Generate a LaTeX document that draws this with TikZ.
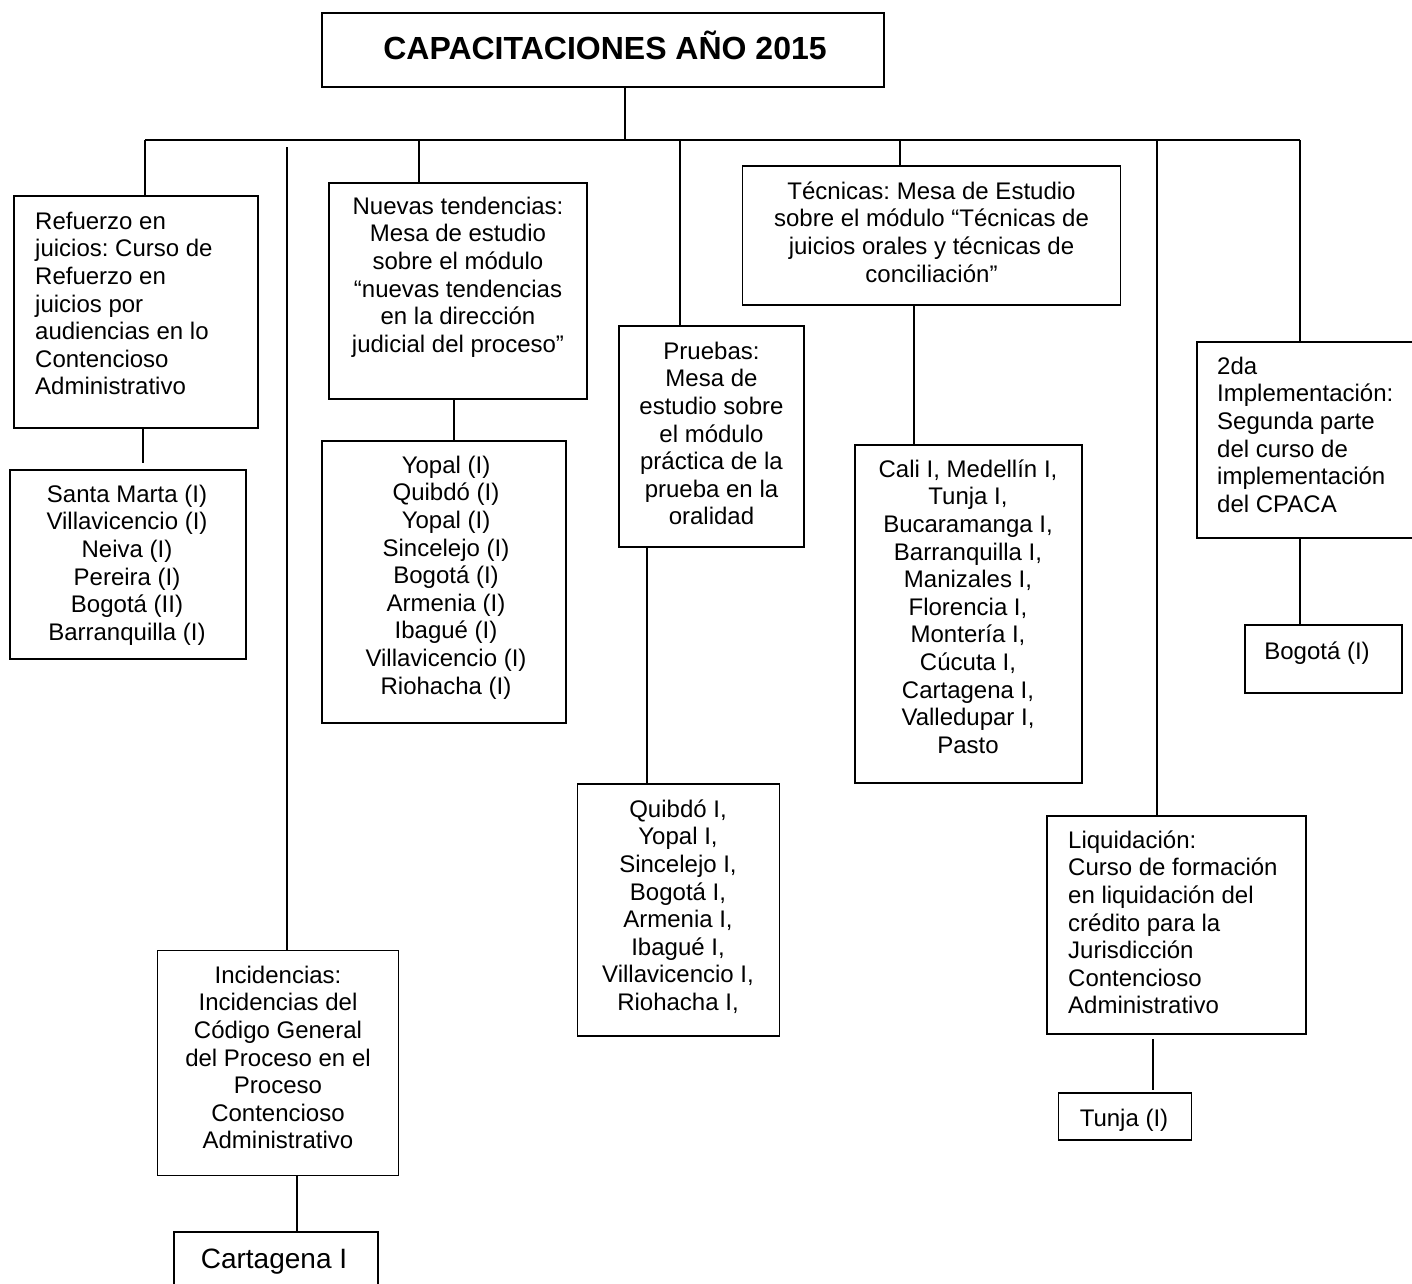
\documentclass[tikz,border=0pt]{standalone}
\usepackage{fontspec}
\setmainfont{Liberation Sans}
\frenchspacing
\begin{document}
\begin{tikzpicture}[x=1pt,y=-1pt,
  box/.style={draw=black,line width=1.8pt,inner sep=0pt,outer sep=0pt},
  txt/.style={font=\fontsize{24}{27.6}\selectfont\frenchspacing,inner sep=0pt,align=center,anchor=north},
  ltxt/.style={txt,align=left,anchor=north west},
  btxt/.style={font=\fontsize{24}{27.6}\selectfont,inner sep=0pt,anchor=base},
  conn/.style={line width=1.4pt,line cap=butt}]
\useasboundingbox (0,0) rectangle (1412,1283);
\clip (0,0) rectangle (1412,1283);
\fill[white] (0,0) rectangle (1412,1283);

% ---- boxes ----
\node[box,minimum width=562pt,minimum height=74pt] (title) at (603,50) {};
\node[box,minimum width=244pt,minimum height=232pt] (ref) at (136,312) {};
\node[box,minimum width=258pt,minimum height=216pt] (nue) at (458,291) {};
\node[box,minimum width=185pt,minimum height=221pt] (pru) at (711.5,436.5) {};
\node[box,minimum width=378pt,minimum height=139pt] (tec) at (931.5,235.5) {};
\node[box,minimum width=221pt,minimum height=196pt] (dos) at (1307.5,440) {};
\node[box,minimum width=259pt,minimum height=218pt] (liq) at (1176.5,925) {};
\node[box,minimum width=241pt,minimum height=225pt] (inc) at (278,1063) {};
\node[box,minimum width=236pt,minimum height=189pt] (sm) at (128,564.5) {};
\node[box,minimum width=244pt,minimum height=282pt] (yo) at (444,582) {};
\node[box,minimum width=202pt,minimum height=252pt] (qu) at (678.5,910) {};
\node[box,minimum width=227pt,minimum height=338pt] (ca) at (968.5,614) {};
\node[box,minimum width=157pt,minimum height=68pt] (bo) at (1323.5,659) {};
\node[box,minimum width=133pt,minimum height=47pt] (tu) at (1125,1116.5) {};
\node[box,minimum width=204pt,minimum height=70pt] (cg) at (276,1267) {};

% ---- texts ----
\node[font=\fontsize{32}{36}\selectfont\bfseries,inner sep=0pt,anchor=base] (ttitle) at (605,59) {CAPACITACIONES AÑO 2015};
\node[ltxt] (tref) at (35,209.7) {\strut Refuerzo en\\juicios: Curso de\\Refuerzo en\\juicios por\\audiencias en lo\\Contencioso\\Administrativo};
\node[txt] (tnue) at (458,194.7) {\strut Nuevas tendencias:\\Mesa de estudio\\sobre el módulo\\“nuevas tendencias\\en la dirección\\judicial del proceso”};
\node[txt] (ttec) at (931.5,179.7) {\strut Técnicas: Mesa de Estudio\\sobre el módulo “Técnicas de\\juicios orales y técnicas de\\conciliación”};
\node[txt] (tpru) at (711.5,339.7) {\strut Pruebas:\\Mesa de\\estudio sobre\\el módulo\\práctica de la\\prueba en la\\oralidad};
\node[ltxt] (tdos) at (1217,354.7) {\strut 2da\\Implementación:\\Segunda parte\\del curso de\\implementación\\del CPACA};
\node[ltxt] (tliq) at (1068,828.7) {\strut Liquidación:\\Curso de formación\\en liquidación del\\crédito para la\\Jurisdicción\\Contencioso\\Administrativo};
\node[txt] (tinc) at (278,963.7) {\strut Incidencias:\\Incidencias del\\Código General\\del Proceso en el\\Proceso\\Contencioso\\Administrativo};
\node[txt] (tsm) at (127,482.7) {\strut Santa Marta (I)\\Villavicencio (I)\\Neiva (I)\\Pereira (I)\\Bogotá (II)\\Barranquilla (I)};
\node[txt] (tyo) at (446,453.7) {\strut Yopal (I)\\Quibdó (I)\\Yopal (I)\\Sincelejo (I)\\Bogotá (I)\\Armenia (I)\\Ibagué (I)\\Villavicencio (I)\\Riohacha (I)};
\node[txt] (tqu) at (678,797.7) {\strut Quibdó I,\\Yopal I,\\Sincelejo I,\\Bogotá I,\\Armenia I,\\Ibagué I,\\Villavicencio I,\\Riohacha I,};
\node[txt] (tca) at (968,457.7) {\strut Cali I, Medellín I,\\Tunja I,\\Bucaramanga I,\\Barranquilla I,\\Manizales I,\\Florencia I,\\Montería I,\\Cúcuta I,\\Cartagena I,\\Valledupar I,\\Pasto};
\node[btxt] (tbo) at (1317,659) {Bogotá (I)};
\node[btxt] (ttu) at (1124,1126) {Tunja (I)};
\node[btxt,font=\fontsize{28}{32}\selectfont] (tcg) at (274,1268) {Cartagena I};

% ---- bus coordinates ----
\coordinate (bt) at (625,140);
\coordinate (b1) at (145,140);
\coordinate (b2) at (287,147);
\coordinate (b3) at (419,140);
\coordinate (b4) at (680,139);
\coordinate (b5) at (900,140);
\coordinate (b6) at (1157,139);
\coordinate (b7) at (1300,140);
\coordinate (e1) at (143,463);
\coordinate (s6a) at (1153,1039);
\coordinate (s6b) at (1153,1090);

% ---- connectors ----
\draw[conn] (bt |- title.south) -- (bt);
\draw[conn] (b1) -- (b7);
\draw[conn] (b1) -- (b1 |- ref.north);
\draw[conn] (b2) -- (b2 |- inc.north);
\draw[conn] (b3) -- (b3 |- nue.north);
\draw[conn] (b4) -- (b4 |- pru.north);
\draw[conn] (b5) -- (b5 |- tec.north);
\draw[conn] (b6) -- (b6 |- liq.north);
\draw[conn] (b7) -- (b7 |- dos.north);
\draw[conn] (e1 |- ref.south) -- (e1);
\draw[conn] (nue.south -| 454,0) -- (yo.north -| 454,0);
\draw[conn] (pru.south -| 647,0) -- (qu.north -| 647,0);
\draw[conn] (tec.south -| 914,0) -- (ca.north -| 914,0);
\draw[conn] (dos.south -| 1300,0) -- (bo.north -| 1300,0);
\draw[conn] (s6a) -- (s6b);
\draw[conn] (inc.south -| 297,0) -- (cg.north -| 297,0);
\end{tikzpicture}
\end{document}
